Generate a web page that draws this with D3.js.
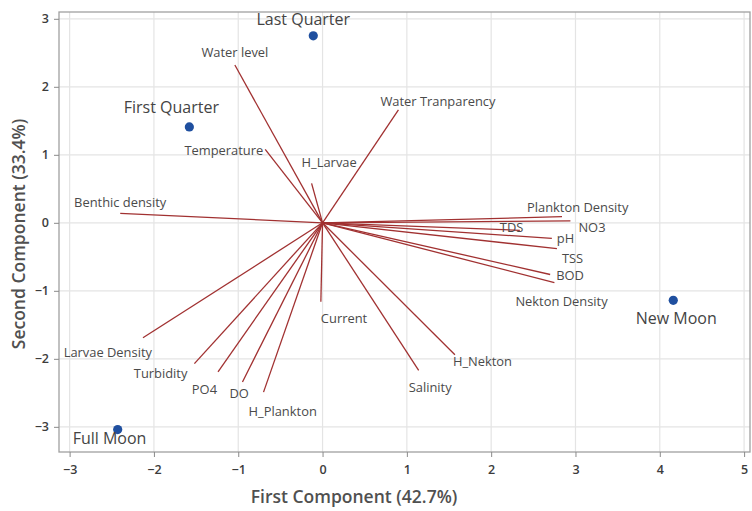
<!DOCTYPE html>
<html><head><meta charset="utf-8">
<script src="https://cdn.jsdelivr.net/npm/d3@7"></script>
<style>
html,body{margin:0;padding:0;background:#fff;}
svg{display:block;font-family:"Open Sans","Noto Sans",sans-serif;}
</style></head>
<body>
<svg id="chart" width="752" height="511"></svg>
<script>
// ---- data ----
const variableNames = ["Water level","Temperature","H_Larvae","Benthic density","Water Tranparency",
  "Plankton Density","TDS","NO3","pH","TSS","BOD","Nekton Density","H_Nekton","Salinity","Current",
  "Larvae Density","Turbidity","PO4","DO","H_Plankton"];
const loadingPC1 = [-1.04,-0.68,-0.13,-2.40,0.90, 2.84,2.34,2.94,2.72,2.78,2.70,2.75,1.57,1.14,-0.02, -2.13,-1.52,-1.24,-0.95,-0.70];
const loadingPC2 = [ 2.32, 1.08, 0.58, 0.14,1.66, 0.09,-0.11,0.03,-0.23,-0.38,-0.76,-0.88,-1.94,-2.17,-1.16, -1.69,-2.07,-2.19,-2.34,-2.49];
const scoreNames = ["Last Quarter","First Quarter","Full Moon","New Moon"];
const scorePC1 = [-0.11,-1.58,-2.43,4.16];
const scorePC2 = [ 2.75, 1.41,-3.04,-1.14];
const xTicks = [-3,-2,-1,0,1,2,3,4,5];
const yTicks = [-3,-2,-1,0,1,2,3];
const xTitle = "First Component (42.7%)";
const yTitle = "Second Component (33.4%)";

// ---- layout ----
const L = 59, R = 750, T = 12, B = 452;
const x = d3.scaleLinear().domain([-3.126, 5.07]).range([L, R]);
const y = d3.scaleLinear().domain([-3.37, 3.10]).range([B, T]);
const svg = d3.select("#chart");

// label placement (pixel offsets from vector tip): [dx, dy, anchor]
const varLabelLayout = {
  "Water level":[0,-8,"middle"], "Temperature":[-2,6,"end"], "H_Larvae":[-10,-16,"start"],
  "Benthic density":[0,-6,"middle"], "Water Tranparency":[-18,-4,"start"],
  "Plankton Density":[-35,-5,"start"], "TDS":[-20,2,"start"], "NO3":[8,11,"start"],
  "pH":[5,5,"start"], "TSS":[5,14,"start"], "BOD":[6,5,"start"], "Nekton Density":[-39,23,"start"],
  "H_Nekton":[-2,11,"start"], "Salinity":[-10,22,"start"], "Current":[0,21,"start"],
  "Larvae Density":[9,19,"end"], "Turbidity":[-7,14,"end"], "PO4":[-1,22,"end"],
  "DO":[-13,16,"start"], "H_Plankton":[-15,24,"start"]
};
const scoreLabelLayout = {
  "Last Quarter":[-10,-11,"middle"], "First Quarter":[-18,-14,"middle"],
  "Full Moon":[-45,14,"start"], "New Moon":[3,24,"middle"]
};

// gridlines
svg.append("g").selectAll("line").data(xTicks).join("line")
  .attr("x1", d=>x(d)).attr("x2", d=>x(d)).attr("y1", T).attr("y2", B)
  .attr("stroke", "#e4e4e4").attr("stroke-width", 1.2);
svg.append("g").selectAll("line").data(yTicks).join("line")
  .attr("x1", L).attr("x2", R).attr("y1", d=>y(d)).attr("y2", d=>y(d))
  .attr("stroke", "#e4e4e4").attr("stroke-width", 1.2);

// frame
svg.append("rect").attr("x", L).attr("y", T).attr("width", R-L).attr("height", B-T)
  .attr("fill", "none").attr("stroke", "#a0a0a0").attr("stroke-width", 1.3);

// axes
const xAxis = svg.append("g").attr("transform", `translate(0,${B})`)
  .call(d3.axisBottom(x).tickValues(xTicks).tickSize(5).tickPadding(8).tickFormat(d3.format("d")));
const yAxis = svg.append("g").attr("transform", `translate(${L},0)`)
  .call(d3.axisLeft(y).tickValues(yTicks).tickSize(5).tickPadding(5).tickFormat(d3.format("d")));
[xAxis, yAxis].forEach(a => {
  a.select(".domain").remove();
  a.selectAll(".tick line").attr("stroke", "#8a8a8a");
  a.selectAll(".tick text").attr("fill", "#3c3c3c").attr("font-size", 12.5).attr("font-weight", 600)
    .attr("font-family", "'Open Sans','Noto Sans',sans-serif");
});

// vectors
const vars = variableNames.map((n,i)=>({name:n, px:loadingPC1[i], py:loadingPC2[i]}));
svg.append("g").selectAll("line").data(vars).join("line")
  .attr("x1", x(0)).attr("y1", y(0)).attr("x2", d=>x(d.px)).attr("y2", d=>y(d.py))
  .attr("stroke", "#a13131").attr("stroke-width", 1.3);
svg.append("g").selectAll("text").data(vars).join("text")
  .attr("x", d=>x(d.px)+varLabelLayout[d.name][0])
  .attr("y", d=>y(d.py)+varLabelLayout[d.name][1])
  .attr("text-anchor", d=>varLabelLayout[d.name][2])
  .attr("font-size", 12.9).attr("fill", "#4a4a4a")
  .text(d=>d.name);

// scores
const scores = scoreNames.map((n,i)=>({name:n, sx:scorePC1[i], sy:scorePC2[i]}));
svg.append("g").selectAll("circle").data(scores).join("circle")
  .attr("cx", d=>x(d.sx)).attr("cy", d=>y(d.sy)).attr("r", 4.6).attr("fill", "#1f4f9f");
svg.append("g").selectAll("text").data(scores).join("text")
  .attr("x", d=>x(d.sx)+scoreLabelLayout[d.name][0])
  .attr("y", d=>y(d.sy)+scoreLabelLayout[d.name][1])
  .attr("text-anchor", d=>scoreLabelLayout[d.name][2])
  .attr("font-size", 16).attr("fill", "#444")
  .text(d=>d.name);

// axis titles
svg.append("text").attr("x", 354).attr("y", 503).attr("text-anchor", "middle")
  .attr("font-size", 17.5).attr("font-weight", 600).attr("fill", "#505050").text(xTitle);
svg.append("text").attr("transform", "translate(25,234) rotate(-90)").attr("text-anchor", "middle")
  .attr("font-size", 17.5).attr("font-weight", 600).attr("fill", "#505050").text(yTitle);
</script>
</body></html>
